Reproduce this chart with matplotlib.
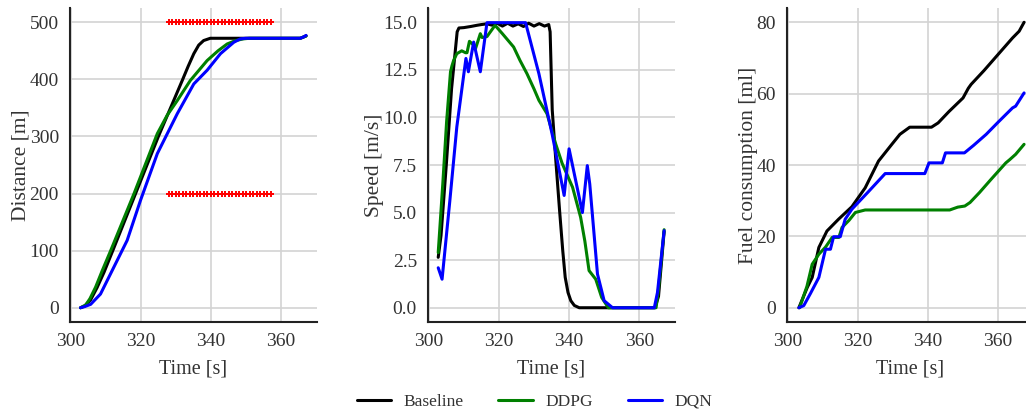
import matplotlib
matplotlib.use("Agg")
import matplotlib.pyplot as plt

# ─── Data ────────────────────────────────────────────
# Distance [m]
dist_base_t = [302.8, 304, 305.7, 307.5, 309.5, 312, 318.5, 325, 331.8, 333.5, 335.1, 336.5,
               337.9, 339.8, 342, 365.5, 367.1]
dist_base = [0, 3, 14, 35, 62, 100, 200, 300, 398, 423, 445, 460, 468, 472, 472, 472, 476]
dist_ddpg_t = [302.8, 304.3, 305.5, 307.1, 309, 311.4, 318, 324.7, 327.5, 330.4, 334.1, 338.9,
               342, 344.6, 347, 349.3, 351, 365.4, 367.1]
dist_ddpg = [0, 5, 16, 36, 65, 100, 199, 305, 337, 363, 398, 433, 450, 462, 468, 471, 472, 472, 476]
dist_dqn_t = [302.8, 304, 305.7, 308.5, 312.3, 316.1, 319.9, 324.7, 330.4, 335.1, 338.9, 342.7,
              346.5, 348.4, 350, 365.4, 366.3, 367.1]
dist_dqn = [0, 2, 6, 24, 71, 118, 188, 270, 340, 392, 416, 445, 465, 471, 472, 472, 474, 477]

# red constraint markers (1 s spacing)
window_t = list(range(328, 358))
window_lo = [200] * len(window_t)
window_hi = [500] * len(window_t)

# Speed [m/s]
spd_base_t = [302.7, 303.5, 305, 306.5, 308.1, 308.6, 310, 312, 313.7, 315, 316.6, 318, 319.5,
              321, 322.5, 324, 325.5, 327, 328.5, 330, 331.5, 333, 334.2, 334.6, 335.2, 336.2,
              337.3, 338.2, 338.9, 339.7, 340.5, 341.5, 342.9, 364.5, 365.5, 367.1]
spd_base = [2.65, 3.8, 7.5, 11.5, 14.5, 14.7, 14.72, 14.78, 14.84, 14.88, 14.92, 14.85, 14.95,
            14.8, 14.95, 14.8, 14.92, 14.78, 14.95, 14.8, 14.93, 14.8, 14.88, 14.5, 10.4, 7.8,
            5.1, 3.0, 1.6, 0.8, 0.37, 0.12, 0.0, 0.0, 0.6, 4.0]
spd_ddpg_t = [302.7, 304, 305.1, 306.2, 306.6, 307.1, 308, 309.4, 310.5, 310.9, 311.6, 312.8,
              313.3, 314.7, 315.2, 316.6, 318.9, 321, 324.2, 326, 328, 330, 331.4, 333.7, 336.2,
              338, 341, 343.3, 344.5, 345.7, 347.6, 349.3, 351.2, 364.8, 365.5, 367.1]
spd_ddpg = [2.9, 6.5, 9.8, 12.4, 12.7, 13.0, 13.35, 13.5, 13.4, 13.4, 14.0, 13.8, 13.6, 14.4,
            14.2, 14.25, 14.84, 14.4, 13.7, 13.0, 12.3, 11.5, 10.9, 10.2, 8.6, 7.6, 6.33, 4.75,
            3.5, 1.95, 1.5, 0.54, 0.0, 0.0, 1.0, 4.1]
spd_dqn_t = [302.7, 303.8, 306, 308, 310.6, 311.3, 312.8, 314.7, 316.6, 327.6, 331.4, 335.2,
             338.6, 340, 343.8, 345.2, 345.9, 348.1, 350, 352.4, 364.3, 365.2, 367.1]
spd_dqn = [2.1, 1.5, 5.6, 9.5, 13.1, 12.4, 13.96, 12.4, 14.98, 14.98, 12.3, 9.1, 5.9, 8.35,
           5.0, 7.47, 6.5, 1.77, 0.37, 0.0, 0.0, 0.8, 4.05]

# Fuel consumption [ml]
fuel_base_t = [303.2, 305.6, 307, 308.9, 311.2, 314.5, 318.3, 322.1, 325.9, 329.7, 332, 334.8,
               341, 342.9, 346, 350, 351.5, 352.3, 356, 360, 364.1, 366, 367.4]
fuel_base = [0, 5.7, 8.5, 16.9, 21.5, 24.8, 28.3, 33.6, 41.1, 45.8, 48.6, 50.6, 50.6, 51.8,
             55, 58.8, 61.5, 62.6, 66.5, 71, 75.6, 77.5, 80]
fuel_ddpg_t = [303.4, 305.5, 307, 308.9, 310.8, 312.7, 314.6, 315.5, 317.5, 319.3, 322.1, 346.2,
               348.5, 350.5, 352, 354.7, 358, 362.2, 363.3, 365, 367.4]
fuel_ddpg = [0, 6, 12.2, 15, 17, 19.7, 19.7, 22.5, 24.5, 26.7, 27.4, 27.4, 28.2, 28.5, 29.5,
             32.3, 36, 40.6, 41.5, 43, 45.8]
fuel_dqn_t = [303.2, 304.6, 306.5, 308.9, 310.8, 312.2, 313.1, 315, 316.4, 318.3, 323, 327.8,
              339.1, 340.3, 344.1, 345, 350.4, 353, 356.6, 360, 364.1, 365, 367.4]
fuel_dqn = [0, 0.6, 4, 8.5, 16.4, 16.4, 19.9, 19.9, 24.8, 27.6, 32.5, 37.6, 37.6, 40.6, 40.6,
            43.4, 43.4, 45.5, 48.6, 52, 56, 56.5, 60.2]

LABELS = ["Baseline", "DDPG", "DQN"]
COLORS = ["black", "green", "blue"]
TEXT = "#333333"

plt.rcParams["font.family"] = ["Liberation Serif", "DejaVu Serif"]
plt.rcParams["text.color"] = TEXT

fig = plt.figure(figsize=(10.26, 4.13), dpi=100)
lefts = [0.0682, 0.4172, 0.767]
axes = [fig.add_axes([l, 0.2203, 0.2407, 0.7603]) for l in lefts]

series = [
    [(dist_base_t, dist_base), (dist_ddpg_t, dist_ddpg), (dist_dqn_t, dist_dqn)],
    [(spd_base_t, spd_base), (spd_ddpg_t, spd_ddpg), (spd_dqn_t, spd_dqn)],
    [(fuel_base_t, fuel_base), (fuel_ddpg_t, fuel_ddpg), (fuel_dqn_t, fuel_dqn)],
]
ylabels = ["Distance [m]", "Speed [m/s]", "Fuel consumption [ml]"]
yticks = [[0, 100, 200, 300, 400, 500],
          [0.0, 2.5, 5.0, 7.5, 10.0, 12.5, 15.0],
          [0, 20, 40, 60, 80]]
ylims = [(-25, 525), (-0.75, 15.75), (-4, 84)]

for ax, ser, yl, yt, ylim in zip(axes, series, ylabels, yticks, ylims):
    for (t, v), c, lab in zip(ser, COLORS, LABELS):
        ax.plot(t, v, color=c, lw=2.2, label=lab, solid_capstyle="round")
    ax.set_xlim(299.8, 370.2)
    ax.set_ylim(*ylim)
    ax.set_xticks([300, 320, 340, 360])
    ax.set_yticks(yt)
    if ax is axes[1]:
        ax.set_yticklabels([f"{v:.1f}" for v in yt])
    ax.set_xlabel("Time [s]", fontsize=14.5, color=TEXT, labelpad=7)
    ax.set_ylabel(yl, fontsize=15.5, color=TEXT, labelpad=-1)
    ax.grid(True, color="#d3d3d3", lw=1.2)
    ax.set_axisbelow(True)
    ax.tick_params(length=0, pad=8, labelsize=14, labelcolor=TEXT)
    for s in ["top", "right"]:
        ax.spines[s].set_visible(False)
    for s in ["left", "bottom"]:
        ax.spines[s].set_color("#222222")
        ax.spines[s].set_linewidth(1.5)

# red constraint window on distance panel
axes[0].plot(window_t, window_hi, ls="none", marker="+", ms=4, mew=1.4, color="red")
axes[0].plot(window_t, window_lo, ls="none", marker="+", ms=4, mew=1.4, color="red")

handles, labels = axes[1].get_legend_handles_labels()
fig.legend(handles, labels, loc="center", bbox_to_anchor=(0.521, 0.027), ncol=3,
           frameon=False, fontsize=12.5, handlelength=2.0, handletextpad=0.7,
           columnspacing=2.0)

fig.savefig("out.png", dpi=100)
